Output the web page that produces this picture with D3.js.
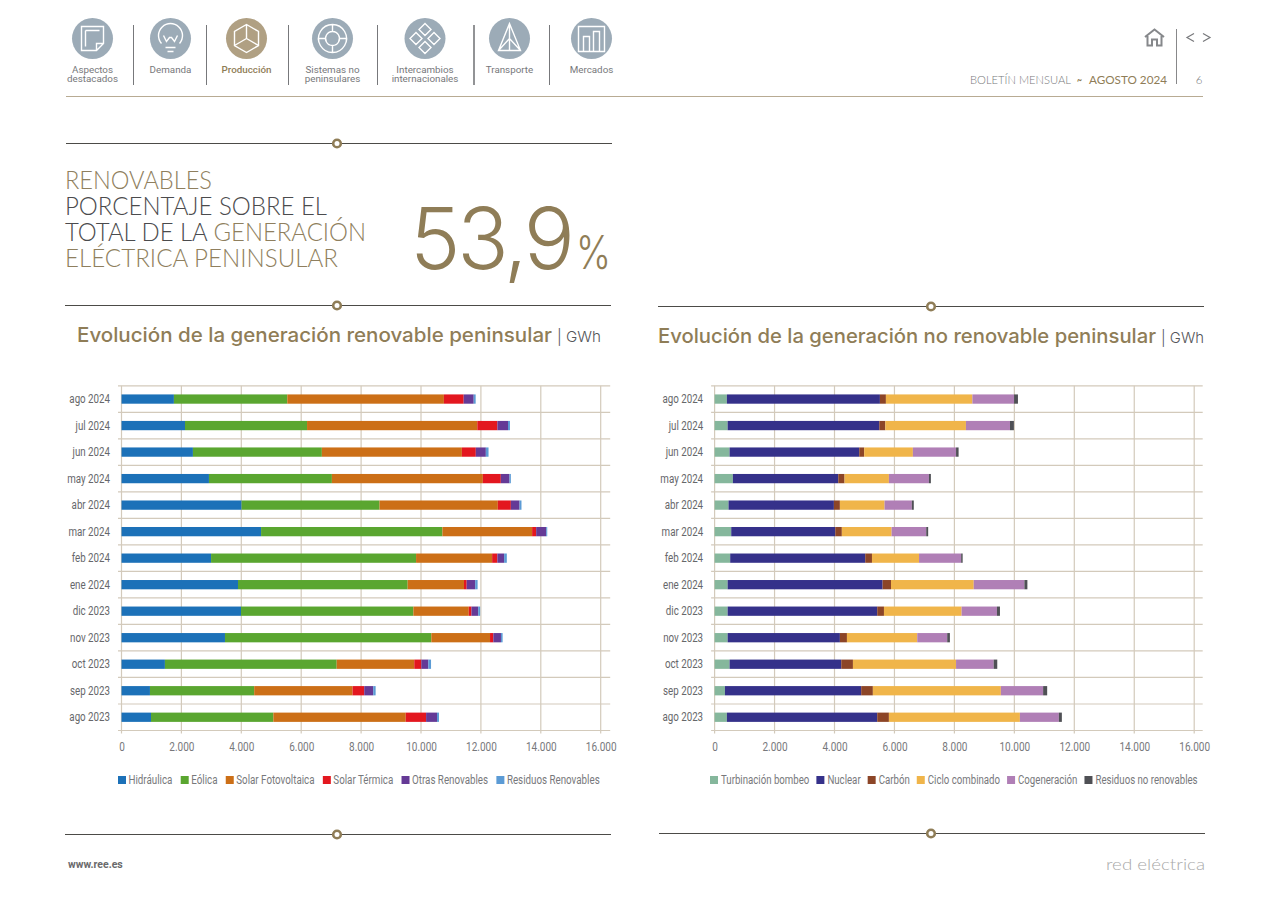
<!DOCTYPE html>
<html lang="es"><head><meta charset="utf-8">
<script src="https://cdnjs.cloudflare.com/ajax/libs/d3/7.8.5/d3.min.js"></script>
<style>
html,body{margin:0;padding:0;background:#fff;overflow:hidden}
svg{display:block}
.cond{font-family:"Roboto",sans-serif}
.geo{font-family:"Lato","Open Sans",sans-serif}
.inter{font-family:"Inter","Lato",sans-serif}
</style></head><body>
<svg id="page" width="1269" height="897"></svg>
<script>
const months = ["ago 2024","jul 2024","jun 2024","may 2024","abr 2024","mar 2024","feb 2024","ene 2024","dic 2023","nov 2023","oct 2023","sep 2023","ago 2023"];
const xTicks = [0,2000,4000,6000,8000,10000,12000,14000,16000];

const hidraulica = [1750,2120,2385,2920,4010,4660,2990,3890,3990,3455,1450,950,985];
const eolica     = [3785,4075,4305,4105,4605,6055,6845,5665,5755,6890,5735,3480,4085];
const solarFV    = [5230,5685,4675,5040,3950,2995,2540,1880,1850,1960,2590,3285,4420];
const solarTerm  = [660,670,465,600,435,135,175,90,90,110,235,390,680];
const otrasRen   = [335,355,335,290,290,335,225,285,225,255,235,300,365];
const residRen   = [65,65,90,45,65,35,90,80,65,55,90,80,65];

const bombeo     = [410,435,500,610,465,555,520,435,435,435,500,345,410];
const nuclear    = [5105,5060,4325,3515,3515,3470,4505,5170,4990,3745,3725,4545,5015];
const carbon     = [200,200,165,210,200,220,225,280,225,235,390,390,390];
const ciclo      = [2885,2690,1625,1480,1490,1660,1570,2760,2590,2345,3440,4270,4370];
const cogen      = [1390,1470,1440,1335,910,1155,1405,1690,1180,1000,1255,1410,1300];
const residNo    = [130,130,85,65,65,65,50,100,100,90,120,135,100];

const renNames = ["Hidráulica","Eólica","Solar Fotovoltaica","Solar Térmica","Otras Renovables","Residuos Renovables"];
const noNames  = ["Turbinación bombeo","Nuclear","Carbón","Ciclo combinado","Cogeneración","Residuos no renovables"];
const renColors = ["#1c71b8","#5aa630","#cc6f17","#e3171f","#653a96","#5b9bd5"];
const noColors  = ["#85b79c","#35318a","#8c4527","#f0b54a","#b07fb6","#4f5055"];

const navLabels = [["Aspectos","destacados"],["Demanda"],["Producción"],["Sistemas no","peninsulares"],["Intercambios","internacionales"],["Transporte"],["Mercados"]];

const GOLD="#8f7d57", GOLDL="#8f7f5e", DARK="#4b4b4d", GRID="#d3cabb";
const svg=d3.select("#page");
const es=d3.formatLocale({decimal:",",thousands:".",grouping:[3],currency:["","€"]});

function condense(sel,ratio){
  sel.each(function(){
    const n=this.getComputedTextLength();
    d3.select(this).attr("textLength",n*ratio).attr("lengthAdjust","spacingAndGlyphs");
  });
}

function chart(opt){
  const x=d3.scaleLinear().domain([0,16000]).range([opt.x0,opt.x1]);
  const y=d3.scaleBand().domain(months).range([385.8,730.5]).paddingInner(0.65).paddingOuter(0.325);
  const g=svg.append("g");
  const rows=months.map((m,i)=>{const r={m};opt.series.forEach((s,k)=>r[opt.names[k]]=s[i]);return r;});
  const stacked=d3.stack().keys(opt.names)(rows);

  g.append("g").selectAll("line").data(xTicks).join("line")
    .attr("x1",d=>x(d)).attr("x2",d=>x(d)).attr("y1",385.8).attr("y2",733.5)
    .attr("stroke",GRID).attr("stroke-width",1.2);
  const bounds=[385.8].concat(months.map(m=>y(m)+y.bandwidth()+y.step()*y.paddingInner()/2));
  g.append("g").selectAll("line").data(bounds).join("line")
    .attr("x1",opt.x0-3.5).attr("x2",opt.x1+(opt.over)).attr("y1",d=>d).attr("y2",d=>d)
    .attr("stroke",GRID).attr("stroke-width",1.2);

  g.append("g").selectAll("g").data(stacked).join("g").attr("fill",(d,i)=>opt.colors[i])
    .selectAll("rect").data(d=>d).join("rect")
    .attr("x",d=>x(d[0])).attr("width",d=>x(d[1])-x(d[0]))
    .attr("y",d=>y(d.data.m)).attr("height",y.bandwidth());

  const ax=g.append("g").attr("transform","translate(0,733)")
    .call(d3.axisBottom(x).tickValues(xTicks).tickSize(0).tickPadding(9).tickFormat(es.format(",d")));
  ax.select(".domain").remove();
  ax.selectAll("text").attr("class","cond").attr("font-size",12.5).attr("fill","#77787b").call(condense,0.8);
  const ay=g.append("g").attr("transform",`translate(${opt.x0-11.5},0)`)
    .call(d3.axisLeft(y).tickSize(0).tickPadding(0));
  ay.select(".domain").remove();
  ay.selectAll("text").attr("class","cond").attr("font-size",12.5).attr("fill","#66676a").call(condense,0.78);

  const lg=g.append("g").attr("transform","translate("+opt.legendX+",780)");
  let cx=0;
  opt.names.forEach((n,i)=>{
    lg.append("rect").attr("x",cx).attr("y",-4).attr("width",8).attr("height",8).attr("fill",opt.colors[i]);
    const t=lg.append("text").attr("class","cond").attr("x",cx+opt.swGap).attr("y",4).attr("font-size",12)
      .attr("fill","#77787b").text(n);
    const w=t.node().getComputedTextLength()*opt.legRatio;
    t.attr("textLength",w).attr("lengthAdjust","spacingAndGlyphs");
    cx+=opt.swGap+w+opt.legGap;
  });
}
chart({x0:121.5,x1:600.7,over:9.5,series:[hidraulica,eolica,solarFV,solarTerm,otrasRen,residRen],names:renNames,colors:renColors,legendX:118,swGap:10.5,legGap:8.3,legRatio:0.815});
chart({x0:714.6,x1:1194.2,over:8.5,series:[bombeo,nuclear,carbon,ciclo,cogen,residNo],names:noNames,colors:noColors,legendX:710,swGap:11,legGap:7,legRatio:0.805});

function rule(x1,x2,y,kx){
  svg.append("line").attr("x1",x1).attr("x2",x2).attr("y1",y).attr("y2",y).attr("stroke","#4c4b47").attr("stroke-width",1);
  svg.append("circle").attr("cx",kx).attr("cy",y).attr("r",3.8).attr("fill","#fff").attr("stroke",GOLD).attr("stroke-width",2.6);
}
rule(66,612,143.5,337); rule(65,611,305.5,337); rule(658,1204,306.5,931); rule(65,611,834.5,337); rule(659,1205,833.5,931);

function txt(x,y,size,fill,str,o={}){
  const t=svg.append("text").attr("x",x).attr("y",y).attr("font-size",size).attr("fill",fill).text(str)
    .attr("class",o.cls||"geo").attr("font-weight",o.w||400);
  if(o.anchor)t.attr("text-anchor",o.anchor);
  if(o.len)t.attr("textLength",o.len).attr("lengthAdjust",o.adj||"spacingAndGlyphs");
  return t;
}
txt(65,189,25,GOLDL,"RENOVABLES",{w:300,len:147});
txt(65,215,25,DARK,"PORCENTAJE SOBRE EL",{w:300,len:262});
const l3=svg.append("text").attr("class","geo").attr("x",65).attr("y",241).attr("font-size",25).attr("font-weight",300).attr("textLength",301).attr("lengthAdjust","spacingAndGlyphs");
l3.append("tspan").attr("fill",DARK).text("TOTAL DE LA ");
l3.append("tspan").attr("fill",GOLDL).text("GENERACIÓN");
txt(65,267,25,GOLDL,"ELÉCTRICA PENINSULAR",{w:300,len:273});
txt(410,269,85,GOLD,"53,9",{w:300,len:165,adj:"spacing",cls:"inter"});
txt(576,269,46,GOLD,"%",{w:300,len:35,cls:"inter"});

txt(77,342,20,GOLD,"Evolución de la generación renovable peninsular",{w:500,len:475,cls:"inter"});
txt(557,342,15,"#55565a","| GWh",{w:300,len:44,cls:"inter"});
txt(658,343,20,GOLD,"Evolución de la generación no renovable peninsular",{w:500,len:498,cls:"inter"});
txt(1161,343,15,"#55565a","| GWh",{w:300,len:43,cls:"inter"});

const navX=[92.5,170.5,246.5,332.5,425,509.5,591.5];
const sepX=[133.5,206.5,288.5,377.5,474,549.5];
sepX.forEach((x,i)=>svg.append("line").attr("x1",x).attr("x2",x).attr("y1",25).attr("y2",85).attr("stroke","#77787b").attr("stroke-width",i==4?1.6:1));
const icons=[
 "M-11,-12H11V5L4,12H-11ZM-7,-8H7M-7,-8V8M11,5H4V12",
 "M-9,5A12,12 0 1 1 9,5M-5,9H5M-3,13H3M-7,-3L-4,3L-1,-1L1,-1L4,3L7,-3",
 "M0,-14L12,-7V7L0,14L-12,7V-7ZM0,-14V0M0,0L12,7M0,0L-12,7",
 "M0,-14A14,14 0 1 0 0.01,-14M0,-7A7,7 0 1 0 0.01,-7M0,-14V-7M0,7V14M-14,0H-7M7,0H14",
 "M0,-15L6,-9L0,-3L-6,-9ZM0,15L6,9L0,3L-6,9ZM-15,0L-9,-6L-3,0L-9,6ZM15,0L9,-6L3,0L9,6Z",
 "M0,-15L-11,12H11ZM0,-15V12M-11,12L0,0L11,12",
 "M-13,-12H13V13H-13ZM-8,13V-2H-2V13M2,13V-7H8V13"
];
navX.forEach((x,i)=>{
  const act=i==2;
  svg.append("circle").attr("cx",x).attr("cy",38.5).attr("r",20.5).attr("fill",act?"#b0a083":"#9cabb7");
  svg.append("path").attr("transform",`translate(${x},38.5)`).attr("d",icons[i]).attr("fill","none").attr("stroke","#fff").attr("stroke-width",1.4);
  navLabels[i].forEach((s,k)=>{
    svg.append("text").attr("x",x).attr("y",73+k*9).attr("text-anchor","middle")
      .attr("font-family","Roboto").attr("font-size",9.8).attr("font-weight",act?500:400).attr("fill",act?GOLD:"#77787b").text(s);
  });
});
svg.append("line").attr("x1",66).attr("x2",1203).attr("y1",96.5).attr("y2",96.5).attr("stroke","#b8ab93").attr("stroke-width",1);

txt(970,84,11.5,"#77787b","BOLETÍN MENSUAL",{w:300,len:101});
txt(1077,84,11.5,GOLD,"~",{w:700,len:5});
txt(1089,84,11.5,GOLD,"AGOSTO 2024",{w:400,len:78});
svg.append("line").attr("x1",1176.5).attr("x2",1176.5).attr("y1",29).attr("y2",84).attr("stroke","#88888a").attr("stroke-width",1);
txt(1199,84,11.5,"#77787b","6",{anchor:"middle",w:300});
svg.append("path").attr("d","M1145,37L1154.5,29.5L1164,37M1147.5,36V45.5H1152V39.5H1157V45.5H1161.5V36").attr("fill","none").attr("stroke","#86888b").attr("stroke-width",2);
svg.append("path").attr("d","M1194,33.5L1187,37.5L1194,41.5M1203,33.5L1210,37.5L1203,41.5").attr("fill","none").attr("stroke","#77787b").attr("stroke-width",1.2);

svg.append("text").attr("x",68).attr("y",868).attr("font-family","Roboto").attr("font-size",10.5).attr("font-weight",700).attr("fill","#6a6a6c").text("www.ree.es");
txt(1106,870,16,"#a9a9a9","red eléctrica",{w:300,len:99});
</script>
</body></html>
